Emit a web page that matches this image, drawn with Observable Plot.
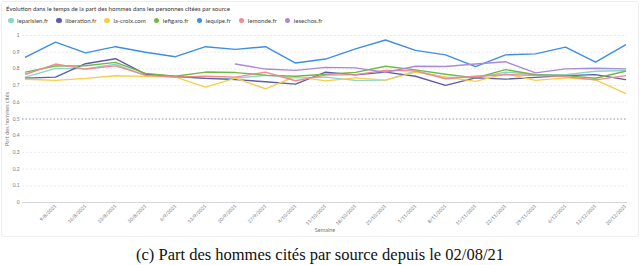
<!DOCTYPE html>
<html>
<head>
<meta charset="utf-8">
<script src="https://cdn.jsdelivr.net/npm/d3@7"></script>
<script src="https://cdn.jsdelivr.net/npm/@observablehq/plot@0.6"></script>
<style>
  html, body { margin: 0; padding: 0; background: #fff; }
  #page { position: relative; width: 640px; height: 265px; overflow: hidden; font-family: Lato, "Open Sans", sans-serif; }
  #card { position: absolute; left: 1px; top: 1px; width: 636px; height: 234px; border: 1px solid #efeff2; border-radius: 3px; }
  #title { position: absolute; left: 6px; top: 5px; font-size: 6.1px; color: #333; white-space: nowrap; }
  #legend { position: absolute; left: 8px; top: 17px; font-size: 6.1px; color: #444; white-space: nowrap; display: flex; gap: 8px; }
  #legend span.item { display: inline-flex; align-items: center; gap: 3.5px; }
  #legend span.dot { width: 5.5px; height: 5.5px; border-radius: 50%; display: inline-block; }
  #chart { position: absolute; left: 0; top: 28px; }
  #caption { position: absolute; left: 0; width: 640px; top: 245px; text-align: center; font-family: "Liberation Serif", "DejaVu Serif", serif; font-size: 16.5px; color: #111; }
</style>
</head>
<body>
<div id="page">
  <div id="card"></div>
  <div id="title"></div>
  <div id="legend"></div>
  <div id="chart"></div>
  <div id="caption"></div>
</div>
<script>
const chartTitle = "Évolution dans le temps de la part des hommes dans les personnes citées par source";
const captionText = "(c) Part des hommes cités par source depuis le 02/08/21";
const xTitle = "Semaine";
const yTitle = "Part des hommes cités";

const weeks = ["2/8/2021","9/8/2021","16/8/2021","23/8/2021","30/8/2021","6/9/2021","13/9/2021","20/9/2021","27/9/2021","4/10/2021","11/10/2021","18/10/2021","25/10/2021","1/11/2021","8/11/2021","15/11/2021","22/11/2021","29/11/2021","6/12/2021","13/12/2021","20/12/2021"];
const tickLabels = weeks.slice(1);
const yTicks = [0, 0.1, 0.2, 0.3, 0.4, 0.5, 0.6, 0.7, 0.8, 0.9, 1];

const sources = ["leparisien.fr","liberation.fr","la-croix.com","lefigaro.fr","lequipe.fr","lemonde.fr","lesechos.fr"];
const colors  = ["#86d6cd","#5d5ea8","#f7cd4c","#72b844","#3d8fe3","#f08a8e","#a98ad6"];

const leparisien = [0.751,0.803,0.800,0.828,0.760,0.752,0.743,0.744,0.761,0.746,0.751,0.731,0.733,0.786,0.751,0.746,0.781,0.765,0.766,0.786,0.790];
const liberation = [0.745,0.751,0.831,0.861,0.768,0.755,0.743,0.736,0.723,0.709,0.781,0.764,0.781,0.756,0.701,0.746,0.739,0.749,0.760,0.766,0.736];
const lacroix    = [0.738,0.731,0.743,0.759,0.755,0.751,0.691,0.745,0.681,0.755,0.728,0.746,0.733,0.781,0.751,0.725,0.771,0.731,0.746,0.734,0.654];
const lefigaro   = [0.781,0.817,0.819,0.839,0.773,0.756,0.781,0.778,0.763,0.756,0.768,0.779,0.816,0.794,0.768,0.746,0.796,0.765,0.760,0.744,0.786];
const lequipe    = [0.870,0.960,0.896,0.933,0.900,0.873,0.933,0.917,0.933,0.835,0.859,0.920,0.973,0.911,0.884,0.814,0.884,0.890,0.930,0.840,0.944];
const lemonde    = [0.768,0.829,0.799,0.818,0.763,0.751,0.756,0.751,0.781,0.729,0.763,0.766,0.791,0.788,0.741,0.756,0.765,0.761,0.754,0.734,0.760];
const lesechos   = [null,null,null,null,null,null,null,0.829,0.799,0.791,0.809,0.806,0.779,0.816,0.814,0.829,0.843,0.776,0.800,0.804,0.800];

const seriesValues = [leparisien, liberation, lacroix, lefigaro, lequipe, lemonde, lesechos];

const data = [];
sources.forEach((s, si) => {
  seriesValues[si].forEach((v, i) => {
    if (v != null) data.push({source: s, week: weeks[i], value: v});
  });
});

document.getElementById("title").textContent = chartTitle;
document.getElementById("caption").textContent = captionText;
const legend = document.getElementById("legend");
sources.forEach((s, i) => {
  const item = document.createElement("span");
  item.className = "item";
  const dot = document.createElement("span");
  dot.className = "dot";
  dot.style.background = colors[i];
  const label = document.createElement("span");
  label.textContent = s;
  item.appendChild(dot);
  item.appendChild(label);
  legend.appendChild(item);
});

const gridVals = yTicks.filter(v => v !== 0 && v !== 0.5);

const chart = Plot.plot({
  width: 640,
  height: 206,
  marginTop: 7,
  marginLeft: 22,
  marginRight: 13,
  marginBottom: 32,
  style: {fontFamily: "Lato, 'Open Sans', sans-serif", background: "transparent"},
  x: {type: "point", domain: weeks, padding: 0},
  y: {domain: [0, 1]},
  color: {domain: sources, range: colors},
  marks: [
    Plot.ruleY(gridVals, {stroke: "#e4e4e8", strokeDasharray: "2,2", strokeWidth: 0.8}),
    Plot.ruleY([0.5], {stroke: "#8d91ad", strokeDasharray: "1.5,2", strokeWidth: 1}),
    Plot.ruleY([0], {stroke: "#d6d6de", strokeWidth: 1}),
    Plot.axisX({ticks: tickLabels, tickRotate: -45, tickSize: 0, tickPadding: 3, fontSize: 4.8, fill: "#777",
      label: xTitle, labelAnchor: "center", labelOffset: 29, labelArrow: "none"}),
    Plot.axisY({ticks: yTicks, tickSize: 0, tickPadding: 3, fontSize: 4.8, fill: "#777",
      tickFormat: d => String(+d.toFixed(1)),
      label: yTitle, labelAnchor: "center", labelOffset: 17, labelArrow: "none"}),
    Plot.lineY(data, {x: "week", y: "value", z: "source", stroke: "source", strokeWidth: 1.4})
  ]
});
document.getElementById("chart").appendChild(chart);
const yl = chart.querySelectorAll("g[aria-label='y-axis label'] text, g[aria-label='x-axis label'] text");
yl.forEach(t => t.setAttribute("font-size", "5.5"));
</script>
</body>
</html>
